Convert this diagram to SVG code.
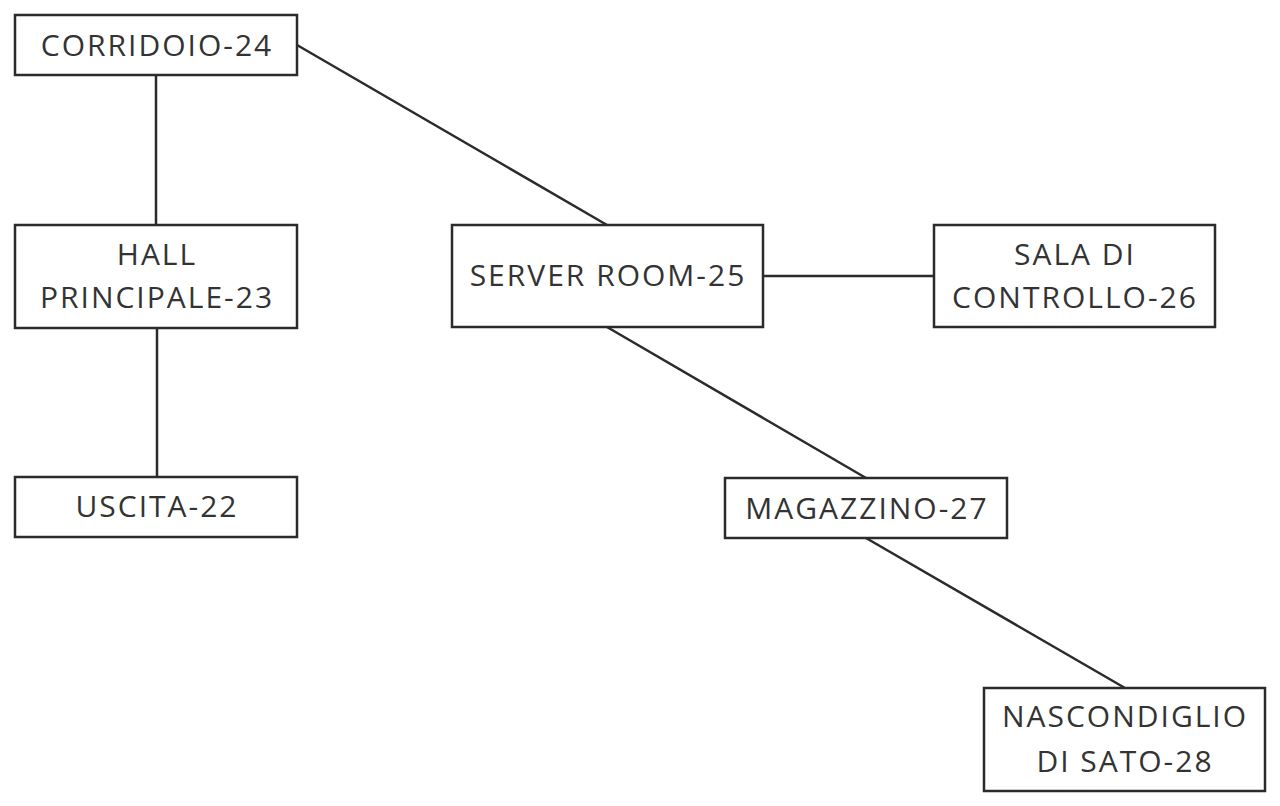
<svg xmlns="http://www.w3.org/2000/svg" width="1280" height="806" viewBox="0 0 1280 806">
<style>
.box{fill:#fff;stroke:#2b2b2b;stroke-width:2.5}
.lbl{font-family:"Open Sans","Noto Sans",sans-serif;font-size:30px;letter-spacing:2px;fill:#333;text-anchor:middle}
.edge{stroke:#2b2b2b;stroke-width:2.5;fill:none}
</style>
<rect width="1280" height="806" fill="#fff"/>
<g id="connectors">
<line class="edge" x1="156" y1="75" x2="156" y2="225"/>
<line class="edge" x1="157" y1="328" x2="157" y2="477"/>
<line class="edge" x1="297" y1="45" x2="607" y2="225"/>
<line class="edge" x1="763" y1="276" x2="934" y2="276"/>
<line class="edge" x1="607" y1="327" x2="866" y2="478"/>
<line class="edge" x1="866" y1="538" x2="1125" y2="688"/>
</g>
<g id="n24"><rect class="box" x="15" y="15" width="282" height="60"/><text class="lbl" x="157" y="56">CORRIDOIO-24</text></g>
<g id="n23"><rect class="box" x="15" y="225" width="282" height="103"/><text class="lbl" x="157" y="265">HALL</text><text class="lbl" x="157" y="308">PRINCIPALE-23</text></g>
<g id="n22"><rect class="box" x="15" y="477" width="282" height="60"/><text class="lbl" x="157" y="517">USCITA-22</text></g>
<g id="n25"><rect class="box" x="452" y="225" width="311" height="102"/><text class="lbl" x="608" y="286">SERVER ROOM-25</text></g>
<g id="n26"><rect class="box" x="934" y="225" width="281" height="102"/><text class="lbl" x="1075" y="265">SALA DI</text><text class="lbl" x="1075" y="308">CONTROLLO-26</text></g>
<g id="n27"><rect class="box" x="725" y="478" width="282" height="60"/><text class="lbl" x="867" y="519">MAGAZZINO-27</text></g>
<g id="n28"><rect class="box" x="984" y="688" width="281" height="103"/><text class="lbl" x="1125" y="727">NASCONDIGLIO</text><text class="lbl" x="1125" y="772">DI SATO-28</text></g>
</svg>
